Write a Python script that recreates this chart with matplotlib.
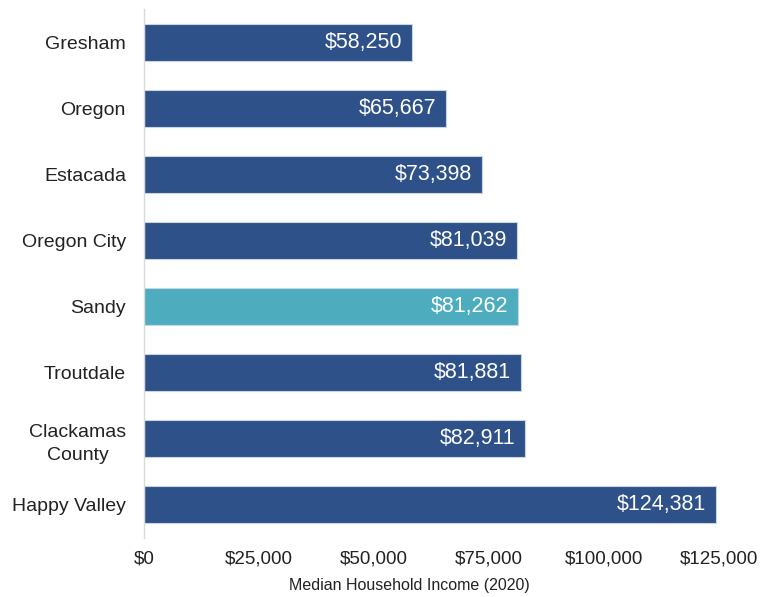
import matplotlib
matplotlib.use("Agg")
import matplotlib.pyplot as plt
from matplotlib.ticker import FuncFormatter

categories = ["Gresham", "Oregon", "Estacada", "Oregon City", "Sandy",
              "Troutdale", "Clackamas\nCounty", "Happy Valley"]
values = [58250, 65667, 73398, 81039, 81262, 81881, 82911, 124381]
highlight = "Sandy"
xticks = [0, 25000, 50000, 75000, 100000, 125000]
xlabel = "Median Household Income (2020)"

plt.rcParams['font.family'] = ['Liberation Sans', 'DejaVu Sans']

fig = plt.figure(figsize=(7.66, 5.97), dpi=100)
ax = fig.add_axes([144/766, 1 - 538/597, (719 - 144)/766, (538 - 9)/597])

blue = "#2E5189"
teal = "#4DADBF"
colors = [teal if c == highlight else blue for c in categories]
ypos = list(range(len(categories)))
bars = ax.barh(ypos, values, height=0.56, color=colors,
               edgecolor="#C9D4E6", linewidth=0.8)
ax.set_ylim(len(categories) - 0.5, -0.5)
ax.set_xlim(0, 125000)
ax.set_yticks(ypos)
ax.set_yticklabels(categories, fontsize=14, color="#222222")
for t in ax.get_yticklabels():
    t.set_multialignment("center")
    t.set_linespacing(1.5)
ax.set_xticks(xticks)
ax.xaxis.set_major_formatter(FuncFormatter(lambda v, p: f"${v:,.0f}"))
ax.tick_params(axis='x', labelsize=13.5, length=0, pad=9, colors="#222222")
ax.tick_params(axis='y', length=0, pad=13)
for s in ["top", "right", "bottom"]:
    ax.spines[s].set_visible(False)
ax.spines["left"].set_color("#D9D9D9")
ax.spines["left"].set_linewidth(1.0)
ax.set_xlabel(xlabel, fontsize=11.5, color="#222222", labelpad=9)
ax.xaxis.set_label_coords((409 - 144) / 575, -0.075)

for b, v in zip(bars, values):
    ax.annotate(f"${v:,.0f}", xy=(b.get_width(), b.get_y() + b.get_height()/2),
                xytext=(-7, 0), textcoords="offset points", ha="right", va="center",
                color="white", fontsize=15.5)

fig.savefig("out.png", dpi=100)
